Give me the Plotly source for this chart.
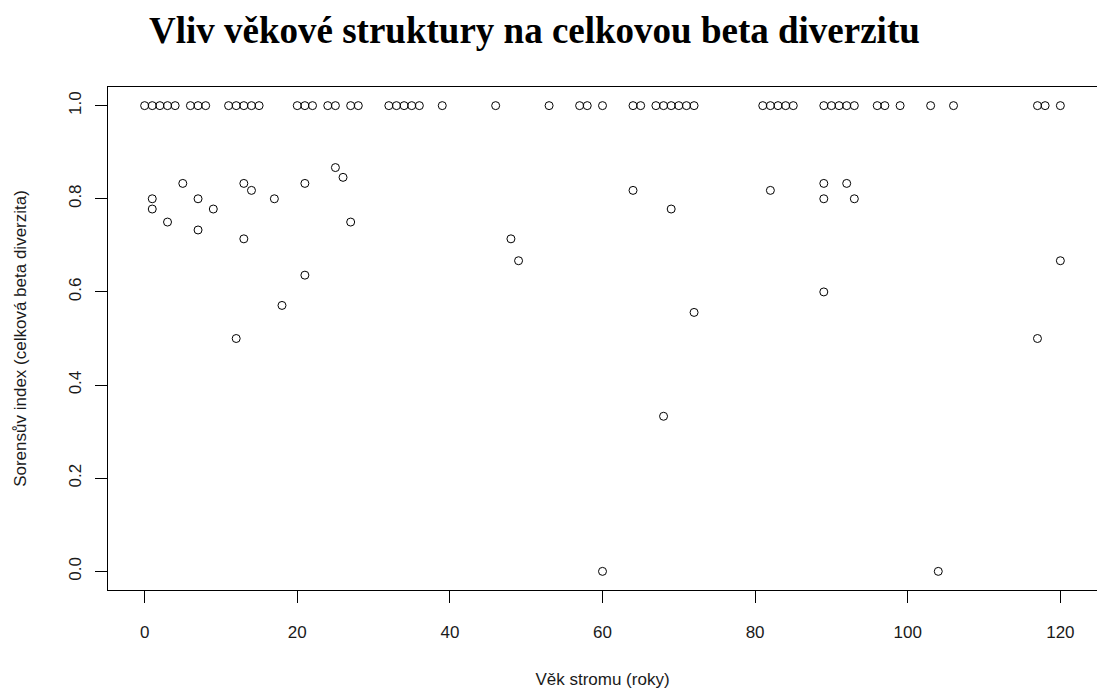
import plotly.graph_objects as go

# vek stromu (roky) a Sorensuv index
top_age = [0, 1, 2, 3, 4, 6, 7, 8, 11, 12, 13, 14, 15, 20, 21, 22, 24, 25, 27, 28,
           32, 33, 34, 35, 36, 39, 46, 53, 57, 58, 60, 64, 65, 67, 68, 69, 70, 71, 72,
           81, 82, 83, 84, 85, 89, 90, 91, 92, 93, 96, 97, 99, 103, 106, 117, 118, 120]
top_value = [1.0] * len(top_age)

low_age = [1, 1, 3, 5, 7, 7, 9, 12, 13, 14, 13, 17, 18, 21, 21, 25, 26, 27,
           48, 49, 64, 69, 72, 68, 60, 82, 89, 89, 92, 93, 89, 104, 117, 120]
low_value = [0.8, 0.778, 0.75, 0.833, 0.8, 0.733, 0.778, 0.5, 0.833, 0.818, 0.714, 0.8,
             0.571, 0.833, 0.636, 0.867, 0.846, 0.75,
             0.714, 0.667, 0.818, 0.778, 0.556, 0.333, 0.0, 0.818, 0.833, 0.8, 0.833,
             0.8, 0.6, 0.0, 0.5, 0.667]

x_ticks = [0, 20, 40, 60, 80, 100, 120]
y_ticks = [0.0, 0.2, 0.4, 0.6, 0.8, 1.0]

age = top_age + low_age
value = top_value + low_value

fig = go.Figure(
    data=go.Scatter(
        x=age,
        y=value,
        mode="markers",
        marker=dict(symbol="circle-open", size=8, color="black", line=dict(width=1, color="black")),
        showlegend=False,
    )
)

axis_font = dict(family="Liberation Sans, Arial", size=17, color="#1a1a1a")

L, R, T, B = 108, 0, 87, 103
W, H = 1097, 693

fig.update_layout(
    width=W,
    height=H,
    paper_bgcolor="white",
    plot_bgcolor="white",
    margin=dict(l=L, r=R, t=T, b=B, autoexpand=False),
    font=axis_font,
    xaxis=dict(
        range=[-4.8, 124.8],
        tickvals=x_ticks,
        ticktext=[str(t) for t in x_ticks],
        ticks="outside",
        ticklen=12,
        tickwidth=1,
        tickcolor="black",
        ticklabelstandoff=15,
        showline=True,
        linecolor="black",
        linewidth=1,
        mirror=True,
        showgrid=False,
        zeroline=False,
        automargin=False,
        title=dict(text="Věk stromu (roky)", standoff=31, font=axis_font),
    ),
    yaxis=dict(
        range=[-0.04, 1.04],
        tickvals=y_ticks,
        ticktext=["%.1f" % t for t in y_ticks],
        tickangle=-90,
        ticks="outside",
        ticklen=12,
        tickwidth=1,
        tickcolor="black",
        ticklabelstandoff=7,
        showline=True,
        linecolor="black",
        linewidth=1,
        mirror=True,
        showgrid=False,
        zeroline=False,
        automargin=False,
        title=dict(text="Sorensův index (celková beta diverzita)", standoff=35, font=axis_font),
    ),
)

# title placed by pixel position, converted to paper coords
fig.add_annotation(
    text="<b>Vliv věkové struktury na celkovou beta diverzitu</b>",
    x=(534 - L) / (W - L - R),
    y=1 + (T - 30) / (H - T - B),
    xref="paper",
    yref="paper",
    xanchor="center",
    yanchor="middle",
    showarrow=False,
    font=dict(family="Liberation Serif, Times New Roman", size=37, color="black"),
)

fig.write_html(
    "out.html",
    config={"displayModeBar": False},
    post_script="document.body.style.margin='0';document.body.style.overflow='hidden';",
)
